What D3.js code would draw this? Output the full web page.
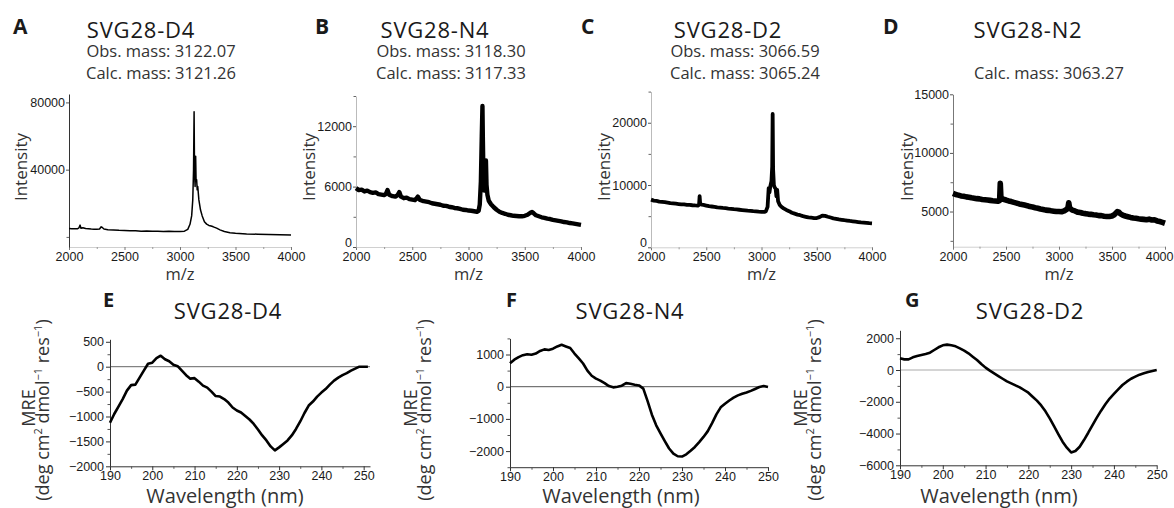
<!DOCTYPE html>
<html>
<head>
<meta charset="utf-8">
<script src="https://cdn.jsdelivr.net/npm/d3@7"></script>
<style>
body { margin: 0; background: #fff; }
svg { display: block; font-family: "Open Sans", "Noto Sans", sans-serif; }
</style>
</head>
<body>
<svg width="1174" height="508"></svg>
<script>
// ---- data ----
var mzTicks = [2000, 2500, 3000, 3500, 4000],
    mzMinor = [2250, 2750, 3250, 3750],
    wlTicks = [190, 200, 210, 220, 230, 240, 250],
    wlMinor = [195, 205, 215, 225, 235, 245];

var msNames = ["SVG28-D4", "SVG28-N4", "SVG28-D2", "SVG28-N2"],
    msLetters = ["A", "B", "C", "D"],
    obsMass = ["3122.07", "3118.30", "3066.59", null],
    calcMass = ["3121.26", "3117.33", "3065.24", "3063.27"];

var cdNames = ["SVG28-D4", "SVG28-N4", "SVG28-D2"],
    cdLetters = ["E", "F", "G"];

// A: SVG28-D4 mass spectrum
var mzA = [2000, 2025, 2050, 2075, 2090, 2100, 2108, 2125, 2150, 2175, 2200, 2225, 2250, 2275, 2290, 2300, 2315, 2350, 2400, 2450, 2500, 2550, 2600, 2650, 2700, 2750, 2800, 2850, 2900, 2950, 3000, 3040, 3070, 3090, 3105, 3115, 3122, 3127, 3131, 3136, 3141, 3145, 3150, 3155, 3160, 3170, 3185, 3200, 3220, 3240, 3260, 3280, 3300, 3330, 3360, 3400, 3450, 3500, 3600, 3700, 3800, 3900, 4000];
var intA = [5000, 4900, 4850, 4800, 5400, 7000, 5200, 5500, 5000, 4900, 4700, 4600, 4500, 4700, 6000, 5600, 4700, 4300, 4100, 3900, 3800, 3600, 3700, 3400, 3500, 3300, 3400, 3200, 3300, 3150, 3200, 3400, 4500, 7500, 12500, 22000, 40000, 74500, 38000, 30000, 48000, 33000, 34000, 28000, 30000, 22000, 16000, 12500, 9000, 7600, 6800, 6500, 6000, 5200, 4200, 3200, 2500, 2200, 1800, 1600, 1400, 1300, 1100];

// B: SVG28-N4
var mzB = [2000, 2025, 2050, 2075, 2100, 2125, 2150, 2175, 2200, 2225, 2250, 2265, 2280, 2295, 2325, 2350, 2370, 2385, 2400, 2425, 2450, 2475, 2500, 2525, 2540, 2550, 2565, 2600, 2625, 2650, 2675, 2700, 2725, 2750, 2775, 2800, 2825, 2850, 2875, 2900, 2925, 2950, 2975, 3000, 3025, 3050, 3075, 3090, 3100, 3110, 3118, 3124, 3128, 3133, 3140, 3148, 3155, 3160, 3168, 3180, 3200, 3225, 3250, 3275, 3300, 3325, 3350, 3375, 3400, 3425, 3450, 3475, 3500, 3525, 3550, 3565, 3580, 3600, 3625, 3650, 3675, 3700, 3725, 3750, 3775, 3800, 3825, 3850, 3875, 3900, 3925, 3950, 3975, 4000];
var intB = [5850, 5650, 5700, 5520, 5600, 5450, 5380, 5420, 5250, 5200, 5150, 5250, 5650, 5200, 5050, 5000, 5150, 5450, 5000, 4850, 4900, 4750, 4700, 4650, 4850, 5000, 4700, 4550, 4500, 4450, 4350, 4300, 4250, 4200, 4100, 4080, 4000, 3950, 3880, 3850, 3780, 3700, 3680, 3620, 3600, 3550, 3500, 3600, 4200, 6500, 11000, 14000, 10500, 6800, 5600, 6500, 8600, 6200, 5200, 4600, 4250, 3950, 3700, 3500, 3380, 3300, 3200, 3150, 3100, 3080, 3050, 3050, 3100, 3200, 3400, 3480, 3350, 3150, 3050, 2950, 2900, 2820, 2780, 2700, 2650, 2600, 2550, 2480, 2450, 2380, 2350, 2300, 2250, 2200];

// C: SVG28-D2
var mzC = [2000, 2025, 2050, 2075, 2100, 2125, 2150, 2175, 2200, 2225, 2250, 2275, 2300, 2325, 2350, 2375, 2400, 2425, 2435, 2440, 2445, 2460, 2475, 2500, 2525, 2550, 2575, 2600, 2625, 2650, 2675, 2700, 2725, 2750, 2775, 2800, 2825, 2850, 2875, 2900, 2925, 2950, 2975, 3000, 3025, 3040, 3055, 3065, 3072, 3080, 3090, 3097, 3101, 3105, 3112, 3120, 3128, 3135, 3142, 3150, 3165, 3180, 3200, 3225, 3250, 3275, 3300, 3325, 3350, 3375, 3400, 3425, 3450, 3475, 3500, 3525, 3550, 3575, 3600, 3625, 3650, 3675, 3700, 3725, 3750, 3775, 3800, 3825, 3850, 3875, 3900, 3925, 3950, 3975, 4000];
var intC = [7650, 7500, 7450, 7350, 7300, 7250, 7180, 7100, 7050, 7000, 6950, 6900, 6880, 6820, 6800, 6750, 6720, 6700, 6800, 8200, 7000, 6850, 6800, 6700, 6600, 6550, 6500, 6420, 6380, 6320, 6280, 6220, 6180, 6120, 6080, 6030, 5980, 5930, 5880, 5850, 5800, 5760, 5720, 5700, 5680, 5800, 6500, 9500, 8800, 9800, 10600, 13000, 21400, 12500, 10000, 9600, 9400, 8200, 9200, 7400, 6800, 6500, 6250, 6000, 5800, 5550, 5400, 5250, 5150, 5000, 4900, 4800, 4750, 4700, 4700, 4850, 5100, 5050, 4900, 4780, 4650, 4580, 4480, 4420, 4350, 4300, 4230, 4180, 4120, 4060, 4000, 3960, 3920, 3880, 3850];

// D: SVG28-N2
var mzD = [2000, 2025, 2050, 2075, 2100, 2125, 2150, 2175, 2200, 2225, 2250, 2275, 2300, 2325, 2350, 2375, 2400, 2425, 2440, 2446, 2452, 2475, 2500, 2525, 2550, 2575, 2600, 2625, 2650, 2675, 2700, 2725, 2750, 2775, 2800, 2825, 2850, 2875, 2900, 2925, 2950, 2975, 3000, 3025, 3050, 3075, 3085, 3092, 3100, 3125, 3150, 3175, 3200, 3225, 3250, 3275, 3300, 3325, 3350, 3375, 3400, 3425, 3450, 3475, 3500, 3525, 3550, 3565, 3580, 3600, 3625, 3650, 3675, 3700, 3725, 3750, 3775, 3800, 3825, 3850, 3875, 3900, 3925, 3950, 3975, 4000];
var intD = [6550, 6450, 6400, 6330, 6300, 6250, 6220, 6170, 6140, 6100, 6080, 6030, 6010, 5980, 5950, 5920, 5900, 5880, 5950, 7400, 6200, 6050, 5980, 5900, 5850, 5780, 5720, 5650, 5600, 5550, 5500, 5420, 5380, 5320, 5280, 5220, 5180, 5120, 5100, 5060, 5030, 5000, 5000, 4980, 5050, 5200, 5350, 5750, 5300, 5120, 5050, 4950, 4920, 4850, 4820, 4780, 4760, 4720, 4700, 4650, 4650, 4600, 4580, 4580, 4620, 4750, 5000, 4950, 4800, 4700, 4620, 4560, 4500, 4450, 4420, 4380, 4350, 4330, 4300, 4350, 4280, 4300, 4200, 4150, 4080, 4000];

// E, F, G: CD spectra (MRE vs wavelength)
var wlE = [190, 191, 192, 193, 194, 195, 196, 197, 198, 199, 200, 201, 202, 203, 204, 205, 206, 207, 208, 209, 210, 211, 212, 213, 214, 215, 216, 217, 218, 219, 220, 221, 222, 223, 224, 225, 226, 227, 228, 229, 230, 231, 232, 233, 234, 235, 236, 237, 238, 239, 240, 241, 242, 243, 244, 245, 246, 247, 248, 249, 250, 251];
var mreE = [-1125, -950, -800, -650, -480, -370, -360, -220, -80, 60, 80, 170, 220, 150, 110, 40, 10, -80, -170, -240, -230, -300, -380, -420, -500, -590, -600, -650, -720, -820, -880, -920, -990, -1060, -1150, -1260, -1380, -1480, -1600, -1680, -1620, -1550, -1480, -1380, -1250, -1100, -930, -780, -700, -600, -520, -450, -360, -280, -220, -170, -130, -80, -40, 0, 0, 0];

var wlF = [190, 191, 192, 193, 194, 195, 196, 197, 198, 199, 200, 201, 202, 203, 204, 205, 206, 207, 208, 209, 210, 211, 212, 213, 214, 215, 216, 217, 218, 219, 220, 221, 222, 223, 224, 225, 226, 227, 228, 229, 230, 231, 232, 233, 234, 235, 236, 237, 238, 239, 240, 241, 242, 243, 244, 245, 246, 247, 248, 249, 250];
var mreF = [725, 840, 920, 980, 1010, 990, 1030, 1110, 1160, 1140, 1180, 1250, 1300, 1250, 1200, 1030, 880, 720, 500, 340, 250, 190, 110, 20, -20, 0, 30, 110, 90, 60, 40, -60, -450, -870, -1200, -1450, -1690, -1920, -2080, -2160, -2170, -2100, -1990, -1870, -1720, -1560, -1380, -1130, -860, -640, -530, -430, -340, -270, -220, -180, -130, -70, -10, 20, -10];

var wlG = [190, 191, 192, 193, 194, 195, 196, 197, 198, 199, 200, 201, 202, 203, 204, 205, 206, 207, 208, 209, 210, 211, 212, 213, 214, 215, 216, 217, 218, 219, 220, 221, 222, 223, 224, 225, 226, 227, 228, 229, 230, 231, 232, 233, 234, 235, 236, 237, 238, 239, 240, 241, 242, 243, 244, 245, 246, 247, 248, 249, 250];
var mreG = [735, 670, 670, 800, 880, 945, 1010, 1090, 1260, 1430, 1555, 1600, 1555, 1490, 1365, 1220, 1050, 840, 630, 380, 150, -40, -210, -380, -550, -715, -840, -970, -1090, -1260, -1430, -1680, -1930, -2230, -2600, -3050, -3530, -4030, -4515, -4890, -5190, -5100, -4830, -4410, -3950, -3465, -3000, -2560, -2160, -1800, -1510, -1220, -945, -735, -550, -420, -295, -210, -125, -60, 0];

// ---- layout ----
var svg = d3.select("svg");
var ink = "#1a1a1a";

var msPanels = [
  {mz: mzA, v: intA, x0: 69, x1: 291, yd: [-6000, 85000], y0: 247, y1: 94,
   yt: [40000, 80000], ym: [0], lw: 1.5, axisCol: "#333",
   letterX: 13, titleX: 141, massX: 161, intX: 27},
  {mz: mzB, v: intB, x0: 356, x1: 581, yd: [0, 15000], y0: 247, y1: 96,
   yt: [0, 6000, 12000], ym: [3000, 9000, 15000], lw: 4.4, axisCol: "#bbb",
   letterX: 315, titleX: 435, massX: 451, intX: 315},
  {mz: mzC, v: intC, x0: 651, x1: 872, yd: [0, 25000], y0: 247.3, y1: 91.6,
   yt: [0, 10000, 20000], ym: [5000, 15000, 25000], lw: 3.8, axisCol: "#bbb",
   letterX: 581, titleX: 728, massX: 745, intX: 610},
  {mz: mzD, v: intD, x0: 953, x1: 1165, yd: [2000, 15000], y0: 246.7, y1: 94.3,
   yt: [5000, 10000, 15000], ym: [2500, 7500, 12500], lw: 5.6, axisCol: "#777",
   letterX: 883, titleX: 1028, massX: 1049, intX: 913}
];

var cdPanels = [
  {wl: wlE, v: mreE, xd: [190, 251.5], x0: 110, x1: 370, yd: [-2000, 550], y0: 466.3, y1: 339.3,
   yt: [500, 0, -500, -1000, -1500, -2000], ym: [250, -250, -750, -1250, -1750],
   zeroCol: "#666", letterX: 103, titleX: 228, labX: 35, wlX: 225},
  {wl: wlF, v: mreF, xd: [190, 250], x0: 510, x1: 768, yd: [-2500, 1500], y0: 467.2, y1: 338.4,
   yt: [1000, 0, -1000, -2000], ym: [1500, 500, -500, -1500, -2500],
   zeroCol: "#555", letterX: 506, titleX: 630, labX: 417, wlX: 621},
  {wl: wlG, v: mreG, xd: [190, 250], x0: 900, x1: 1156.7, yd: [-6000, 2500], y0: 465.3, y1: 330.3,
   yt: [2000, 0, -2000, -4000, -6000], ym: [1000, -1000, -3000, -5000],
   zeroCol: "#aaa", letterX: 905, titleX: 1030, labX: 807, wlX: 999}
];

function styleAxis(sel, col, fs) {
  sel.select(".domain").attr("stroke", col);
  sel.selectAll(".tick line").attr("stroke", col);
  sel.selectAll(".tick text").attr("font-size", fs).attr("fill", ink).attr("font-family", "inherit");
}

function minorTicks(g, axis, at) {
  var m = g.append("g").attr("transform", at).call(axis);
  m.select(".domain").remove();
  return m;
}

msPanels.forEach(function(p, i) {
  var x = d3.scaleLinear().domain([2000, 4000]).range([p.x0, p.x1]),
      y = d3.scaleLinear().domain(p.yd).range([p.y0, p.y1]);
  var g = svg.append("g");

  var xa = g.append("g").attr("transform", "translate(0," + p.y0 + ")")
      .call(d3.axisBottom(x).tickValues(mzTicks).tickSize(3).tickSizeOuter(0).tickPadding(2).tickFormat(d3.format("d")));
  styleAxis(xa, "#d0d0d0", 12.5);
  xa.selectAll(".tick line").attr("stroke", "#777");
  if (p.x1 > 1160) {
    // rightmost label sits at the page edge
    xa.selectAll(".tick text").filter(function(d) { return d === 4000; })
      .attr("text-anchor", "end").attr("dx", 8);
  }
  minorTicks(g, d3.axisBottom(x).tickValues(mzMinor).tickSize(2).tickFormat(""),
    "translate(0," + p.y0 + ")").selectAll("line").attr("stroke", "#999");

  var ya = g.append("g").attr("transform", "translate(" + p.x0 + ",0)")
      .call(d3.axisLeft(y).tickValues(p.yt).tickSize(3).tickSizeOuter(0).tickPadding(1).tickFormat(d3.format("d")));
  styleAxis(ya, p.axisCol, 12.5);
  ya.selectAll(".tick line").attr("stroke", "#555");
  // the zero label sits in the corner, just above the first m/z label
  ya.selectAll(".tick text").filter(function(d) { return d === 0; }).attr("dy", "-0.05em");
  minorTicks(g, d3.axisLeft(y).tickValues(p.ym).tickSize(2.5).tickFormat(""),
    "translate(" + p.x0 + ",0)").selectAll("line").attr("stroke", "#666");

  var line = d3.line().x(function(d) { return x(d[0]); }).y(function(d) { return y(d[1]); });
  g.append("path")
    .datum(d3.zip(p.mz, p.v))
    .attr("d", line)
    .attr("fill", "none")
    .attr("stroke", "#000")
    .attr("stroke-width", p.lw)
    .attr("stroke-linejoin", "round");

  g.append("text").attr("x", p.letterX).attr("y", 34)
    .attr("font-size", 21).attr("font-weight", 700).attr("fill", ink).text(msLetters[i]);
  g.append("text").attr("x", p.titleX).attr("y", 38).attr("text-anchor", "middle")
    .attr("font-size", 22).attr("font-weight", 500).attr("letter-spacing", 0.8)
    .attr("fill", ink).text(msNames[i]);
  if (obsMass[i]) {
    g.append("text").attr("x", p.massX).attr("y", 57).attr("text-anchor", "middle")
      .attr("font-size", 16.5).attr("fill", "#333").text("Obs. mass: " + obsMass[i]);
  }
  g.append("text").attr("x", p.massX).attr("y", 79).attr("text-anchor", "middle")
    .attr("font-size", 16.5).attr("fill", "#333").text("Calc. mass: " + calcMass[i]);

  g.append("text").attr("transform", "translate(" + p.intX + ",167) rotate(-90)")
    .attr("text-anchor", "middle").attr("font-size", 17).attr("fill", "#333").text("Intensity");
  g.append("text").attr("x", (p.x0 + p.x1) / 2).attr("y", 280).attr("text-anchor", "middle")
    .attr("font-size", 16.5).attr("fill", "#333").text("m/z");
});

cdPanels.forEach(function(p, i) {
  var x = d3.scaleLinear().domain(p.xd).range([p.x0, p.x1]),
      y = d3.scaleLinear().domain(p.yd).range([p.y0, p.y1]);
  var g = svg.append("g");

  g.append("line")
    .attr("x1", p.x0).attr("x2", p.x1).attr("y1", y(0)).attr("y2", y(0))
    .attr("stroke", p.zeroCol).attr("stroke-width", 1);

  var xa = g.append("g").attr("transform", "translate(0," + p.y0 + ")")
      .call(d3.axisBottom(x).tickValues(wlTicks).tickSize(4).tickSizeOuter(0).tickPadding(1));
  styleAxis(xa, "#333", 12.5);
  minorTicks(g, d3.axisBottom(x).tickValues(wlMinor).tickSize(2.5).tickFormat(""),
    "translate(0," + p.y0 + ")").selectAll("line").attr("stroke", "#555");

  var ya = g.append("g").attr("transform", "translate(" + p.x0 + ",0)")
      .call(d3.axisLeft(y).tickValues(p.yt).tickSize(4).tickSizeOuter(0).tickPadding(2).tickFormat(d3.format("d")));
  styleAxis(ya, "#333", 12.5);
  minorTicks(g, d3.axisLeft(y).tickValues(p.ym).tickSize(2.5).tickFormat(""),
    "translate(" + p.x0 + ",0)").selectAll("line").attr("stroke", "#555");

  var line = d3.line().x(function(d) { return x(d[0]); }).y(function(d) { return y(d[1]); });
  g.append("path")
    .datum(d3.zip(p.wl, p.v))
    .attr("d", line)
    .attr("fill", "none")
    .attr("stroke", "#000")
    .attr("stroke-width", 2.6)
    .attr("stroke-linejoin", "round");

  g.append("text").attr("x", p.letterX).attr("y", 307)
    .attr("font-size", 20).attr("font-weight", 700).attr("fill", ink).text(cdLetters[i]);
  g.append("text").attr("x", p.titleX).attr("y", 319).attr("text-anchor", "middle")
    .attr("font-size", 22).attr("font-weight", 500).attr("letter-spacing", 0.8)
    .attr("fill", ink).text(cdNames[i]);

  g.append("text").attr("x", p.wlX).attr("y", 503).attr("text-anchor", "middle")
    .attr("font-size", 20).attr("fill", "#333").text("Wavelength (nm)");

  // y label: MRE and units, rotated
  g.append("text").attr("transform", "translate(" + p.labX + ",408) rotate(-90)")
    .attr("text-anchor", "middle").attr("font-size", 18).attr("fill", "#333").text("MRE");
  var u = g.append("text").attr("transform", "translate(" + (p.labX + 14) + ",410) rotate(-90)")
    .attr("text-anchor", "middle").attr("font-size", 18).attr("fill", "#333");
  var parts = [["(deg cm", 0], ["2", 1], [" dmol", 0], ["\u22121", 1], [" res", 0], ["\u22121", 1], [")", 0]];
  var up = false;
  parts.forEach(function(q) {
    var t = u.append("tspan").text(q[0]);
    if (q[1]) { t.attr("font-size", 11).attr("dy", -7); up = true; }
    else if (up) { t.attr("dy", 7); up = false; }
  });
});
</script>
</body>
</html>
